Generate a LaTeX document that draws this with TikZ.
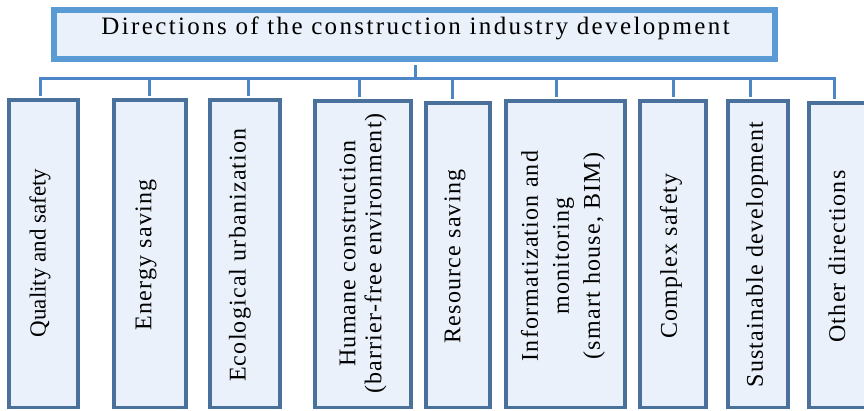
\documentclass[tikz,border=0pt]{standalone}
\usepackage{fontspec}
\setmainfont{Liberation Serif}
\usetikzlibrary{calc}
\begin{document}
\begin{tikzpicture}[x=1pt,y=-1pt,
  titlebox/.style={draw=titleblue,line width=6pt,fill=boxfill,inner sep=0pt},
  dirbox/.style={draw=boxedge,line width=3.6pt,fill=boxfill,inner sep=0pt},
  dirlabel/.style={rotate=90,inner sep=0pt,align=center,font=\fontsize{24}{28}\selectfont\addfontfeatures{LetterSpace=5}},
  link/.style={draw=linkblue,line width=3pt}]
\definecolor{titleblue}{RGB}{91,155,213}
\definecolor{boxedge}{RGB}{74,112,156}
\definecolor{boxfill}{RGB}{234,241,250}
\definecolor{linkblue}{RGB}{76,134,198}
\useasboundingbox (0,0) rectangle (864,410);

% heading box and its caption
\node[titlebox,minimum width=721pt,minimum height=49pt] (title) at (414.5,34.5) {};
\node[anchor=base,inner sep=0pt,font=\fontsize{25}{28}\selectfont\addfontfeatures{LetterSpace=9.5}]
  (titletext) at (415.5,34) {Directions of the construction industry development};

% direction boxes (centre line of the border)
\node[dirbox,minimum width=69pt,minimum height=307.5pt] (b1) at (43.5,253.75) {};
\node[dirbox,minimum width=72pt,minimum height=307.5pt] (b2) at (150,253.75) {};
\node[dirbox,minimum width=70pt,minimum height=307.5pt] (b3) at (245,253.75) {};
\node[dirbox,minimum width=96pt,minimum height=306.5pt] (b4) at (363,254.25) {};
\node[dirbox,minimum width=64pt,minimum height=304.5pt] (b5) at (458,255.25) {};
\node[dirbox,minimum width=119pt,minimum height=306.5pt] (b6) at (565.5,254.25) {};
\node[dirbox,minimum width=66pt,minimum height=306.5pt] (b7) at (673,254.25) {};
\node[dirbox,minimum width=60pt,minimum height=306.5pt] (b8) at (758,254.25) {};
\node[dirbox,minimum width=71pt,minimum height=304.5pt] (b9) at (844.5,255.25) {};

% labels
\node[dirlabel,font=\fontsize{23}{28}\selectfont] (l1) at (40,253) {Quality and safety};
\node[dirlabel] (l2) at (146,255) {Energy saving};
\node[dirlabel] (l3) at (240,255) {Ecological urbanization};
\node[dirlabel,font=\fontsize{24}{26}\selectfont\addfontfeatures{LetterSpace=5}] (l4) at (363,253.5)
  {Humane construction\\(barrier-free environment)};
\node[dirlabel] (l5) at (455,256.5) {Resource saving};
\node[dirlabel,font=\fontsize{24}{31}\selectfont\addfontfeatures{LetterSpace=5}] (l6) at (563,256)
  {Informatization and\\monitoring\\(smart house, BIM)};
\node[dirlabel] (l7) at (671,256) {Complex safety};
\node[dirlabel] (l8) at (757,254.5) {Sustainable development};
\node[dirlabel] (l9) at (837,256.5) {Other directions};

% connector tree
\coordinate (hub) at (415,78);
\coordinate (d1) at (40,78);
\coordinate (d2) at (149,78);
\coordinate (d3) at (248,78);
\coordinate (d4) at (359,78);
\coordinate (d5) at (452,78);
\coordinate (d6) at (556,78);
\coordinate (d7) at (673,78);
\coordinate (d8) at (750,78);
\coordinate (d9) at (834,78);
\path[link] ($(title.south -| hub)+(0,3)$) -- (hub);
\path[link,line cap=rect] (d1) -- (d9);
\foreach \i in {1,...,9}{
  \path[link] (d\i) -- ($(d\i |- b\i.north)+(0,-1.8)$);
}
\end{tikzpicture}
\end{document}
